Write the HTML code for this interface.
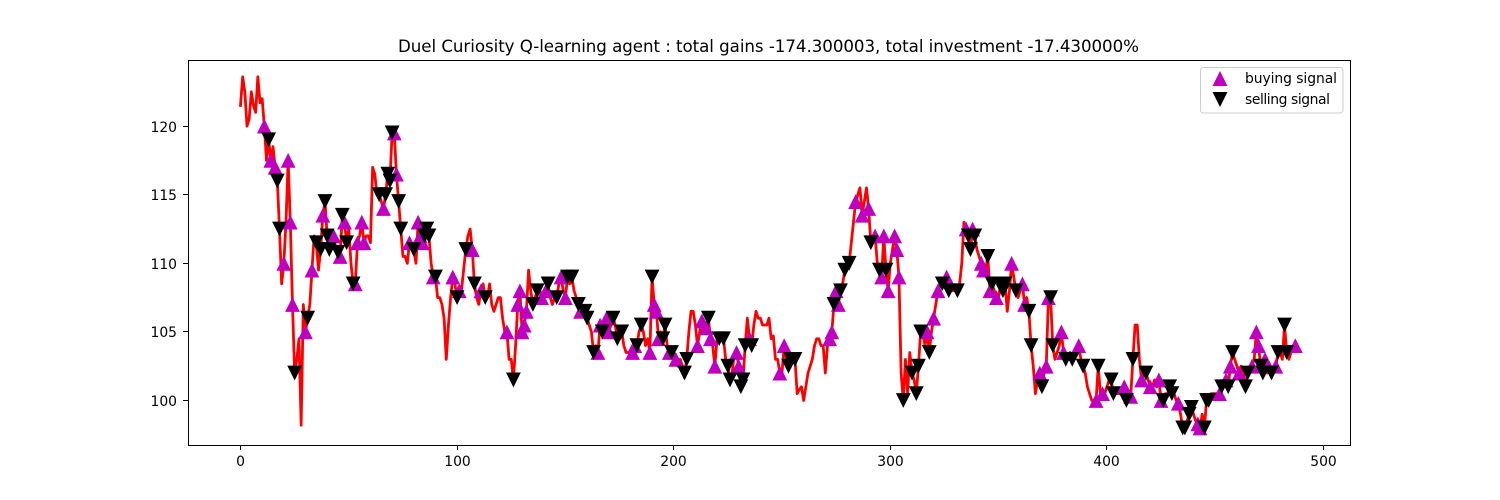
<!DOCTYPE html>
<html>
<head>
<meta charset="utf-8">
<title>Duel Curiosity Q-learning agent</title>
<style>
html,body{margin:0;padding:0;background:#fff;width:1500px;height:500px;overflow:hidden}
svg{display:block;font-family:"DejaVu Sans","Liberation Sans",sans-serif}
</style>
</head>
<body>
<svg id="chart" xmlns="http://www.w3.org/2000/svg" width="1500" height="500" viewBox="0 0 1500 500">
  <rect x="0" y="0" width="1500" height="500" fill="#fff"/>
  <text x="398" y="52" textLength="741" lengthAdjust="spacing" font-size="16.67" fill="#000">Duel Curiosity Q-learning agent : total gains -174.300003, total investment -17.430000%</text>
  <g id="plot"></g>
  <rect x="188.5" y="60.5" width="1162" height="385" fill="none" stroke="#000" stroke-width="1" shape-rendering="crispEdges"/>
  <g id="xaxis"></g>
  <g id="yaxis"></g>
  <g>
    <rect x="1200.5" y="67.5" width="142.5" height="45.5" rx="3" ry="3" fill="#fff" fill-opacity="0.8" stroke="#ccc" stroke-width="1"/>
    <polygon points="1220,71 1227.5,86 1212.5,86" fill="#bf00bf"/>
    <text x="1245" y="83" textLength="92" lengthAdjust="spacing" font-size="13.9" fill="#000">buying signal</text>
    <polygon points="1220,107 1227.5,92 1212.5,92" fill="#000"/>
    <text x="1245" y="104" textLength="85" lengthAdjust="spacing" font-size="13.9" fill="#000">selling signal</text>
  </g>
</svg>
<script>
const closePrice = [
121.5,123.6,122.5,120,120.5,122.5,121.5,121,123.6,121.7,
122,120,117.5,119,117.5,118.5,117,116,112.5,108.5,
110,113,117.5,113,107,102,103,104.5,98.2,107,
105,106,107,109.5,112,111.5,109.5,111,113.5,114.5,
112,111,111,112,111,110.8,110.5,113.5,113,111.5,
112.5,110,108.5,108.5,111.5,112,113,111.5,112,112,
111.5,117,116.5,115,115,114.5,114,115,116.5,116,
119.5,119.5,116.5,114.5,112.5,110.5,110.5,110,111.5,111,
111,110,113,112,111.5,112,112.5,112,110,109,
109,107.5,107.5,107,106,103,105.5,107.5,109,108.5,
107.5,108,108,109.5,111,112,112.5,111,108.5,107.5,
107,108,108.5,107.5,107.5,108.5,107,106.5,107,107.5,
107.5,106,105,105,103,103,101.5,104,107,108,
105,105.5,106.5,109.5,108,107,107.5,108,108,107.5,
107.5,108,108.5,107.5,107,107.5,107.5,108.5,109,108,
107.5,109,108.5,109,108,107.5,107,106.5,106.5,106.5,
106,105.5,105,103.5,104,103.5,105.5,105,105.5,106,
105,105.5,106,105.5,104.5,104.5,105,104,103.5,103.5,
103.5,103.5,104,104,105,105.5,105,104,104.5,103.5,
109,107,106.5,104.5,105,104.5,105.5,104,103.5,103.5,
103.5,103,102.5,103,102.5,102,103,105,106.5,106.5,
105.5,104,105,105.8,105,105.3,106,104.5,104,102.5,
104.5,104.5,104.5,104.5,103,102.5,101.5,102,103.5,103.5,
102.5,101,101.5,104,106,104.5,104,105.5,106.5,106,
106,105.5,105.5,105.5,106,104.5,104.7,103,103,102,
102,104,103,102.5,103,103,103,100.5,100.8,101,
100,101,102,102.5,103,104,104.5,104.5,104,104,
102,104,104.5,105,107,108,107,108,108.5,109.5,
110,110,111.5,113,114.5,115,115.5,113.5,114.5,115.5,
114,111.5,112,112,110,109.5,109,112,109.5,108,
110,111,112,111,109,102,100,103,100.5,103.5,
102,101.5,100.5,102.5,105,105,104,105,103.5,105,
106,107,108,108.5,108.5,108.5,109,108,108,108,
108,108,108.5,110,113,112.5,112,111,112.5,112,
111,110.5,110,109.5,109.5,110.5,108,108.5,108,107.5,
107.5,108.5,108,108.5,106.5,108,110,109,108,107.5,
108,108.5,107,107.5,106.5,104,102.5,100.5,101.5,102,
101,102,102.5,107.5,107.5,104,103,103.5,104,105,
103.5,103,103,103.5,103,103,103.5,104,103,102.5,
102,101,100.5,100,100,100,102.5,100.5,100.5,100.5,
101,101.5,101.5,100.5,100.5,100.5,100.5,100.5,101,100,
100.3,100.3,103,105.5,105.5,103,101.5,102,102,101.5,
101,101,101.5,101,101.5,100,100,100.5,100.5,101,
100.5,100.5,100,99.8,99,98,98,98.5,99,99.5,
99,98.5,98.3,98,99,98,100,100,100.5,100.5,
100.5,100.5,100.5,101,101.5,101.5,101,102.5,103.5,103,
102.5,102,102.5,102,101,102,102.5,102.5,103,105,
104,102.5,102,103,102,102.5,102,102.5,102.5,103.5,
103.5,103,105.5,103.5,103,103.5,104,104
];
const buyDays = [11,14,16,20,22,23,24,30,33,38,43,46,48,53,54,56,57,66,71,72,78,82,83,84,89,98,101,107,111,123,128,129,130,131,132,139,141,148,150,157,165,166,169,170,181,182,189,191,192,193,198,201,211,213,215,217,219,229,230,235,249,251,272,273,275,276,284,287,290,293,296,297,299,302,303,304,317,320,322,326,335,338,342,343,346,349,356,361,362,369,372,373,379,380,387,395,398,408,411,416,420,424,425,433,442,443,452,455,457,461,467,469,470,473,478,487];
const sellDays = [13,17,18,25,31,35,37,39,40,41,45,47,49,52,64,67,68,69,70,73,74,80,85,86,87,90,100,104,108,113,126,135,137,142,146,151,153,156,159,160,163,167,172,174,176,183,185,190,195,196,199,205,206,216,221,223,225,226,231,232,233,236,253,254,256,274,277,279,281,291,295,298,306,310,312,313,314,318,324,327,331,336,337,339,345,347,351,352,353,358,364,365,370,374,375,381,384,389,396,402,403,409,412,418,426,429,430,435,436,438,439,445,446,447,453,456,458,464,465,471,472,476,479,482,483];
const xTickLabels = [0,100,200,300,400,500];
const yTickLabels = [100,105,110,115,120];

const NS = 'http://www.w3.org/2000/svg';
function xScale(v){ return 240.5 + v * 2.166; }
function yScale(v){ return 400.5 - (v - 100) * 13.72; }
function make(tag, attrs, parent){
  const el = document.createElementNS(NS, tag);
  for (const k in attrs) el.setAttribute(k, attrs[k]);
  parent.appendChild(el);
  return el;
}
const plot = document.getElementById('plot');
const xaxis = document.getElementById('xaxis');
const yaxis = document.getElementById('yaxis');

const pathData = closePrice.map(function(v, i){
  return (i ? 'L' : 'M') + xScale(i).toFixed(2) + ' ' + yScale(v).toFixed(2);
}).join(' ');
const priceLine = make('path', {d: pathData, fill: 'none', stroke: '#ff0000', 'stroke-width': 2.78, 'stroke-linejoin': 'round', 'stroke-linecap': 'square'}, plot);



const R = 7.4;
buyDays.forEach(function(d){
  const cx = xScale(d), cy = yScale(closePrice[d]);
  const m = make('polygon', {points: cx + ',' + (cy - R) + ' ' + (cx + R) + ',' + (cy + R) + ' ' + (cx - R) + ',' + (cy + R), fill: '#bf00bf'}, plot);
  
  
});
sellDays.forEach(function(d){
  const cx = xScale(d), cy = yScale(closePrice[d]);
  const m = make('polygon', {points: cx + ',' + (cy + R) + ' ' + (cx + R) + ',' + (cy - R) + ' ' + (cx - R) + ',' + (cy - R), fill: '#000'}, plot);
  
  
});

xTickLabels.forEach(function(t){
  const px = Math.floor(xScale(t)) + 0.5;
  const tick = make('line', {x1: px, x2: px, y1: 445, y2: 450, stroke: '#000', 'stroke-width': 1, 'shape-rendering': 'crispEdges'}, xaxis);
  
  
  const lab = make('text', {x: px, y: 466, 'text-anchor': 'middle', 'font-size': 13.9, fill: '#000'}, xaxis);
  
  
  lab.textContent = t;
});
yTickLabels.forEach(function(t){
  const py = Math.floor(yScale(t)) + 0.5;
  const tick = make('line', {x1: 183, x2: 188, y1: py, y2: py, stroke: '#000', 'stroke-width': 1, 'shape-rendering': 'crispEdges'}, yaxis);
  
  
  const lab = make('text', {x: 177, y: py + 5.5, 'text-anchor': 'end', 'font-size': 13.9, fill: '#000'}, yaxis);
  
  
  lab.textContent = t;
});
</script>
</body>
</html>
